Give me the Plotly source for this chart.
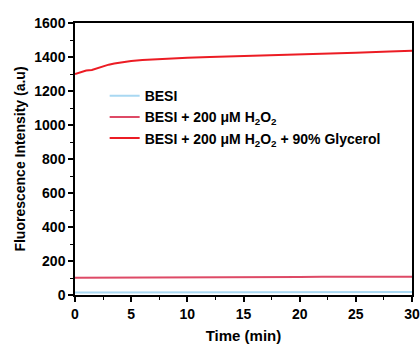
import plotly.graph_objects as go

time = [0, 0.5, 1, 1.5, 2, 2.5, 3, 3.5, 4, 5, 6, 7, 8, 10, 12, 15, 18, 20, 22, 25, 28, 30]
besi = [15, 15, 15, 15, 15, 15, 15, 15, 15, 16, 16, 16, 16, 16, 16, 17, 17, 17, 17, 17, 18, 18]
besi_h2o2 = [102, 102, 102, 102, 103, 103, 103, 103, 103, 103, 104, 104, 104, 104, 105, 105, 106, 106, 107, 107, 108, 108]
besi_h2o2_gly = [1300, 1312, 1320, 1324, 1335, 1346, 1355, 1362, 1368, 1377, 1383, 1387, 1390, 1396, 1400, 1405, 1411, 1415, 1419, 1425, 1432, 1437]

x_ticks = [0, 5, 10, 15, 20, 25, 30]
y_ticks = [0, 200, 400, 600, 800, 1000, 1200, 1400, 1600]

names = ["BESI", "BESI + 200 μM H<sub>2</sub>O<sub>2</sub>",
         "BESI + 200 μM H<sub>2</sub>O<sub>2</sub> + 90% Glycerol"]
colors = ["#a9d8f2", "#de4a66", "#ec1c24"]

FAM = "Liberation Sans, Arial, sans-serif"

fig = go.Figure()
for ys, nm, c in zip([besi, besi_h2o2, besi_h2o2_gly], names, colors):
    fig.add_trace(go.Scatter(x=time, y=ys, mode="lines", name=nm,
                             line=dict(color=c, width=2)))

axis_common = dict(showline=True, linecolor="black", linewidth=1.5, mirror=True,
                   ticks="outside", ticklen=5, tickwidth=1.5, tickcolor="black",
                   showgrid=False, zeroline=False, automargin=False,
                   tickfont=dict(family=FAM, size=14, color="black", weight="bold"))

fig.update_layout(
    width=420, height=344,
    margin=dict(l=75, r=8, t=23, b=49),
    paper_bgcolor="white", plot_bgcolor="white",
    font=dict(family=FAM, size=14, color="black"),
    showlegend=True,
    legend=dict(x=0.088, y=0.79, xanchor="left", yanchor="top",
                bgcolor="rgba(0,0,0,0)",
                font=dict(size=14, weight="bold", family=FAM),
                tracegroupgap=0),
    xaxis=dict(range=[0, 30], tickvals=x_ticks,
               minor=dict(ticks="outside", ticklen=3, tickwidth=1.2, tickcolor="black", dtick=2.5),
               title=dict(text="Time (min)", standoff=10,
                          font=dict(size=15, weight="bold", family=FAM)),
               **axis_common),
    yaxis=dict(range=[0, 1600], tickvals=y_ticks,
               minor=dict(ticks="outside", ticklen=3, tickwidth=1.2, tickcolor="black", dtick=100),
               title=dict(text="Fluorescence Intensity (a.u)", standoff=5,
                          font=dict(size=14, weight="bold", family=FAM)),
               **axis_common),
)

fig.write_html("out.html", config={"displayModeBar": False},
               post_script="document.body.style.margin='0';document.body.style.overflow='hidden';")
